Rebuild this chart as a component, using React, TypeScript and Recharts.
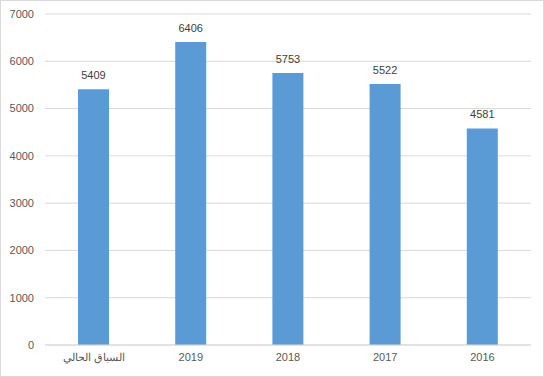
import React from "react";
import { BarChart, Bar, XAxis, YAxis, CartesianGrid, LabelList } from "recharts";

const categories = ["السباق الحالي", "2019", "2018", "2017", "2016"];
const values = [5409, 6406, 5753, 5522, 4581];
const yTicks = [0, 1000, 2000, 3000, 4000, 5000, 6000, 7000];

const data = categories.map((c, i) => ({ name: c, value: values[i] }));

const textColor = "#595959";
const font = "'Liberation Sans', Arial, sans-serif";

export default function App() {
  return (
    <div
      style={{
        position: "absolute",
        left: 0,
        top: 0,
        width: 544,
        height: 377,
        border: "1px solid #d9d9d9",
        boxSizing: "border-box",
        background: "#fff",
        fontFamily: font,
      }}
    >
      <div style={{ position: "absolute", left: -1, top: -1 }}>
        <BarChart
          width={544}
          height={377}
          data={data}
          margin={{ top: 14, right: 13, left: 0, bottom: 0 }}
        >
          <CartesianGrid vertical={false} stroke="#d9d9d9" />
          <XAxis
            dataKey="name"
            height={32}
            tickLine={false}
            axisLine={{ stroke: "#d9d9d9" }}
            tick={{ fill: textColor, fontSize: 11, fontFamily: font }}
            interval={0}
          />
          <YAxis
            width={45}
            domain={[0, 7000]}
            ticks={yTicks}
            tickLine={false}
            axisLine={false}
            tickMargin={5}
            tick={{ fill: textColor, fontSize: 11, fontFamily: font }}
          />
          <Bar dataKey="value" fill="#5B9BD5" barSize={31} isAnimationActive={false}>
            <LabelList
              dataKey="value"
              position="top"
              offset={10}
              fill="#404040"
              fontSize={11}
              fontFamily={font}
            />
          </Bar>
        </BarChart>
      </div>
    </div>
  );
}
